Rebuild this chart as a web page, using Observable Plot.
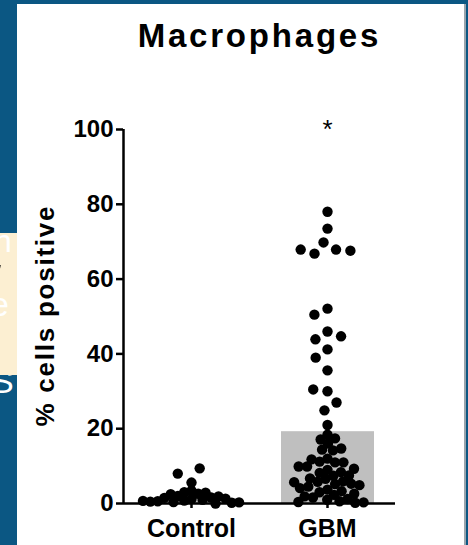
<!DOCTYPE html>
<html><head><meta charset="utf-8">
<script src="https://cdn.jsdelivr.net/npm/d3@7"></script>
<script src="https://cdn.jsdelivr.net/npm/@observablehq/plot@0.6"></script>
<style>
html,body{margin:0;padding:0}
body{width:468px;height:545px;background:#0b5783;position:relative;overflow:hidden;font-family:"Liberation Sans",Arial,sans-serif}
#note{position:absolute;left:0;top:233px;width:17px;height:142px;background:#fcefd2;overflow:hidden}
#note .blk{position:absolute;left:-14px;top:22px;font:italic bold 50px "Liberation Sans",Arial,sans-serif;color:#000}
#note .wn{position:absolute;left:-6px;top:-10px;font:32px "Liberation Sans",Arial,sans-serif;color:#fff}
#note .we{position:absolute;left:-10px;top:52px;font:34px "Liberation Sans",Arial,sans-serif;color:#fff}
#s{position:absolute;left:-9px;top:362px;font:34px "Liberation Sans",Arial,sans-serif;color:#fff}
#panel{position:absolute;left:17px;top:4px;width:447px;height:541px;background:#fff;border-right:2px solid #9aa4ad}
#title{position:absolute;left:58px;top:19px;width:400px;text-align:center;font:bold 33px/33px "Liberation Sans",Arial,sans-serif;letter-spacing:2.8px;text-indent:2.8px;color:#000}
#chart{position:absolute;left:0;top:0}
</style></head>
<body>
<div id="s">S</div>
<div id="note"><span class="wn">n</span><span class="blk">i</span><span class="we">e</span></div>
<div id="panel"></div>
<div id="title">Macrophages</div>
<div id="chart"></div>
<script>
const groups = ["Control", "GBM"];
const controlValues = [5.6, 8.0, 9.4, 3.4, 3.0, 2.6, 2.9, 2.0, 2.5, 1.6, 1.9, 1.2, 1.5, 1.0, 0.8, 1.3, 0.6, 0.4, 0.2, 0.5, 0.3, 0.0, 0.7];
const gbmValues = [78, 73.5, 69.8, 67.9, 66.8, 67.6, 67.9, 52.1, 50.5, 46, 43.9, 44.7, 41.2, 39, 35.6, 30, 30.5, 27, 24.9, 21,
  18.4, 17.1, 16, 17.4, 14.4, 14.2, 14.7, 12, 11.2, 11, 11, 11.8,
  9.9, 9.0, 8.2, 7.4, 6.6, 5.8, 5.2, 5.9, 6.7, 7.5, 8.4, 9.3, 9.9,
  5.3, 4.5, 3.7, 3.0, 2.3, 1.6, 1.0, 0.6, 1.2, 1.9, 2.6, 3.3, 4.1, 4.9, 5.7, 0.2, 0.4, 0.3];
const groupMeans = [1.3, 19.2];
const yTicks = [0, 20, 40, 60, 80, 100];
const significance = [{group: "GBM", y: 100, label: "*"}];
const yLabel = "% cells positive";

const controlPoints = controlValues.map(v => ({group: "Control", value: v}));
const gbmPoints = gbmValues.map(v => ({group: "GBM", value: v}));
const bars = groups.map((g, i) => ({group: g, mean: groupMeans[i]}));

// sparse points are spread more widely than the dense swarm near zero
const controlSparse = controlPoints.filter(d => d.value > 5);
const controlDense = controlPoints.filter(d => d.value <= 5);
const gbmSparse = gbmPoints.filter(d => d.value > 20);
const gbmDense = gbmPoints.filter(d => d.value <= 20);
const dot = {fx: "group", y: "value", r: 5.2, fill: "#000"};

const chart = Plot.plot({
  width: 468, height: 545,
  marginLeft: 123, marginRight: 73, marginTop: 129, marginBottom: 42,
  style: {background: "transparent", fontFamily: "'Liberation Sans', Arial, sans-serif", color: "#000"},
  fx: {domain: groups, padding: 0, label: null},
  x: {domain: [0, 1], axis: null},
  y: {domain: [0, 100], axis: null},
  marks: [
    Plot.barY(bars, {fx: "group", y: "mean", fill: "#bfbfbf", insetLeft: 22, insetRight: 21}),
    Plot.ruleY([0], {stroke: "#000", strokeWidth: 2.5}),
    Plot.ruleX([{group: "Control", x: 0}], {fx: "group", x: "x", y1: 0, y2: 100, stroke: "#000", strokeWidth: 2.5}),
    Plot.dot(controlDense, Plot.dodgeX({anchor: "middle", padding: -3}, dot)),
    Plot.dot(controlSparse, Plot.dodgeX({anchor: "middle", padding: 6}, dot)),
    Plot.dot(gbmDense, Plot.dodgeX({anchor: "middle", padding: -2}, dot)),
    Plot.dot(gbmSparse, Plot.dodgeX({anchor: "middle", padding: 4}, dot)),
    Plot.text(significance, {fx: "group", y: "y", text: "label", fontSize: 26}),
    Plot.text([{group: "Control", label: yLabel}], {fx: "group", text: "label", frameAnchor: "left", textAnchor: "middle", rotate: -90, dx: -78, fontSize: 26, fontWeight: "bold"}),
    Plot.axisY({facetAnchor: "left", ticks: yTicks, tickSize: 7, tickPadding: 3, fontSize: 24, fontWeight: "bold", strokeWidth: 2.5, label: null}),
    Plot.axisFx({anchor: "bottom", tickSize: 5, tickPadding: 11, fontSize: 25, fontWeight: "bold", strokeWidth: 2.5, label: null})
  ]
});
d3.select(chart).selectAll("text").filter(function () { return this.textContent === yLabel; })
  .attr("textLength", 220).attr("lengthAdjust", "spacing");
document.getElementById("chart").appendChild(chart);
</script>
</body></html>
